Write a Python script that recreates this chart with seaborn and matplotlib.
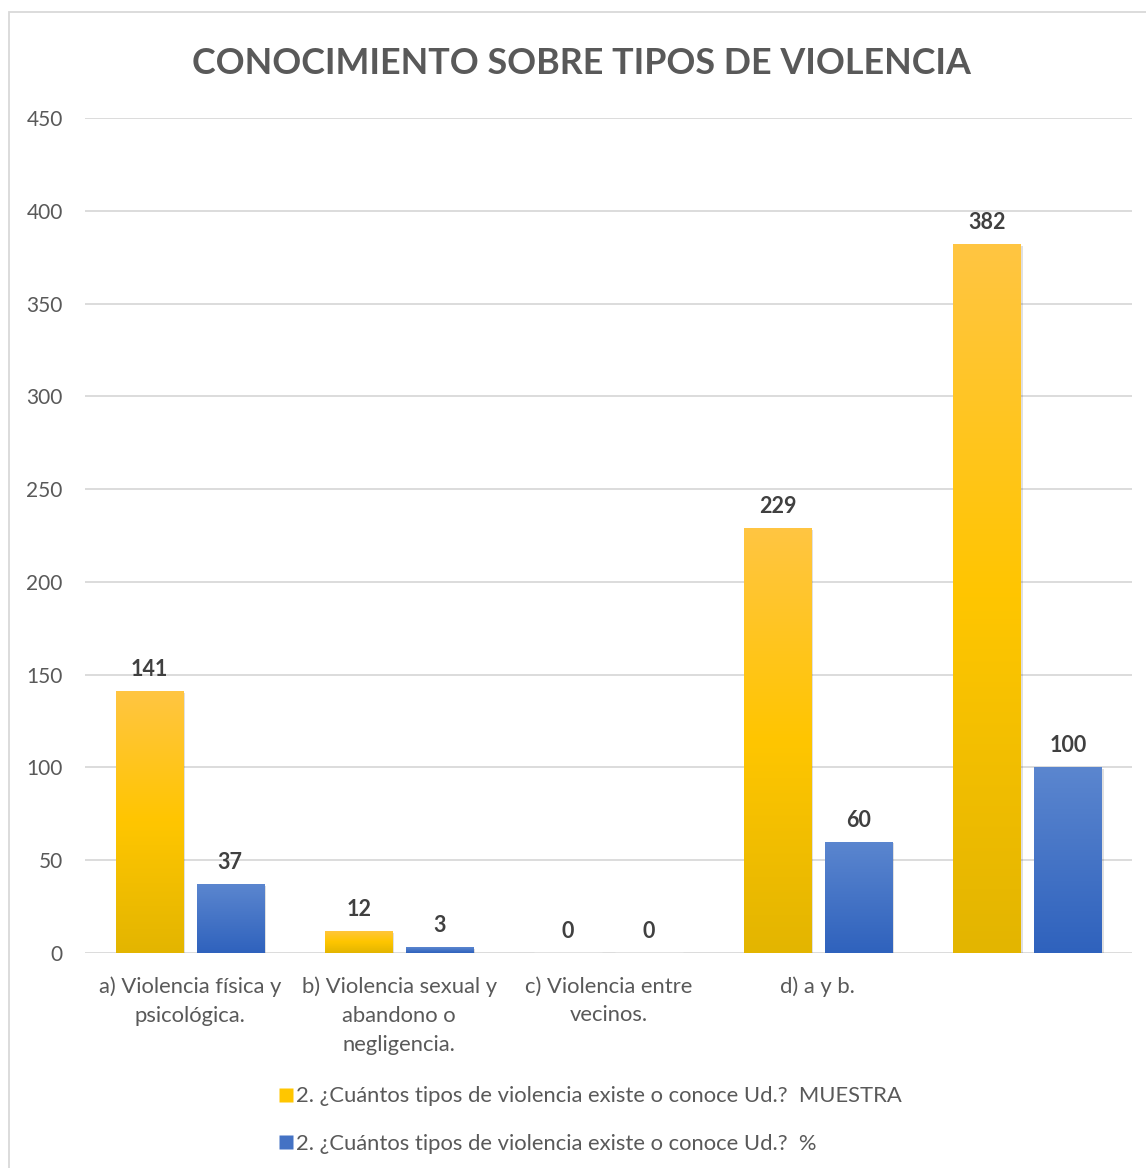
import numpy as np
import pandas as pd
import matplotlib
matplotlib.use("Agg")
import matplotlib.pyplot as plt
import seaborn as sns
from matplotlib.colors import LinearSegmentedColormap
from matplotlib.patches import Rectangle
from matplotlib.lines import Line2D

categories = ["a) Violencia física y\npsicológica.",
              "b) Violencia sexual y\nabandono o\nnegligencia.",
              "c) Violencia entre\nvecinos.",
              "d) a y b.",
              " "]
muestra = [141, 12, 0, 229, 382]
porcentaje = [37, 3, 0, 60, 100]
series_names = ["2. ¿Cuántos tipos de violencia existe o conoce Ud.?  MUESTRA",
                "2. ¿Cuántos tipos de violencia existe o conoce Ud.?  %"]
title = "CONOCIMIENTO SOBRE TIPOS DE VIOLENCIA"
yticks = [0, 50, 100, 150, 200, 250, 300, 350, 400, 450]

sns.set_theme(style="white")
plt.rcParams['font.family'] = ['Lato', 'DejaVu Sans']

df = pd.DataFrame({
    "cat": categories * 2,
    "val": muestra + porcentaje,
    "serie": [series_names[0]] * 5 + [series_names[1]] * 5,
})

fig = plt.figure(figsize=(11.46, 11.68), dpi=100)
ax = fig.add_axes([0.0742, 0.1841, 0.9136, 0.7149])

gold_top, gold_mid, gold_bot = "#FFC542", "#FFC600", "#E3B500"
blue_top, blue_bot = "#5B86CF", "#2F62BD"
palette = {series_names[0]: gold_mid, series_names[1]: "#4472C4"}

sns.barplot(data=df, x="cat", y="val", hue="serie", palette=palette,
            width=0.774, gap=0.17, ax=ax, legend=False, saturation=1,
            order=categories, hue_order=series_names)

ax.set_ylim(0, 450)
ax.set_xlim(-0.5, 4.5)
ax.set_yticks(yticks)
ax.yaxis.grid(True, color="#D9D9D9", linewidth=1.3)
ax.set_axisbelow(True)
for s in ax.spines.values():
    s.set_visible(False)
ax.set_xlabel("")
ax.set_ylabel("")
ax.tick_params(axis="y", length=0, pad=16, labelsize=15, labelcolor="#595959")
ax.tick_params(axis="x", length=0, pad=17, labelsize=15.8, labelcolor="#595959")
for lab in ax.get_xticklabels():
    lab.set_linespacing(1.55)
    lab.set_va("top")

cmap_gold = LinearSegmentedColormap.from_list("g", [gold_bot, gold_mid, gold_top])
cmap_blue = LinearSegmentedColormap.from_list("b", [blue_bot, blue_top])
grad = np.linspace(0, 1, 256).reshape(-1, 1)

bars = list(ax.patches)
for i, p in enumerate(bars):
    x0, y0 = p.get_x(), p.get_y()
    w, h = p.get_width(), p.get_height()
    if h <= 0:
        continue
    cmap = cmap_gold if i < 5 else cmap_blue
    sh = Rectangle((x0 + 0.006, y0 - 1.0), w + 0.004, h, facecolor="#000000",
                   alpha=0.12, edgecolor="none", zorder=1.5)
    ax.add_patch(sh)
    im = ax.imshow(grad, cmap=cmap, aspect="auto", origin="lower",
                   extent=[x0, x0 + w, y0, y0 + h], zorder=2)
    im.set_clip_path(p)
    p.set_facecolor("none")
    p.set_edgecolor("none")
ax.set_xlim(-0.5, 4.5)
ax.set_ylim(0, 450)

for c in ax.containers:
    ax.bar_label(c, fmt="%d", padding=8, fontsize=15.5, fontweight="bold",
                 color="#404040")

fig.text(0.507, 0.946, title, ha="center", va="center", fontsize=25.8,
         fontweight="bold", color="#595959")

handles = [Line2D([], [], marker="s", linestyle="none", markersize=10,
                  markerfacecolor=gold_mid, markeredgecolor="none"),
           Line2D([], [], marker="s", linestyle="none", markersize=10,
                  markerfacecolor="#4472C4", markeredgecolor="none")]
fig.legend(handles, series_names, loc="center left",
           bbox_to_anchor=(0.225, 0.041), frameon=False, fontsize=15.8,
           labelcolor="#595959", handletextpad=0.05, labelspacing=1.25,
           handlelength=0.8)

fig.patches.append(Rectangle((9 / 1146, -0.01), 1.2, 1 - 12 / 1168 + 0.01,
                             transform=fig.transFigure, facecolor="none",
                             edgecolor="#D9D9D9", linewidth=1.3))

fig.savefig("out.png", dpi=100)
